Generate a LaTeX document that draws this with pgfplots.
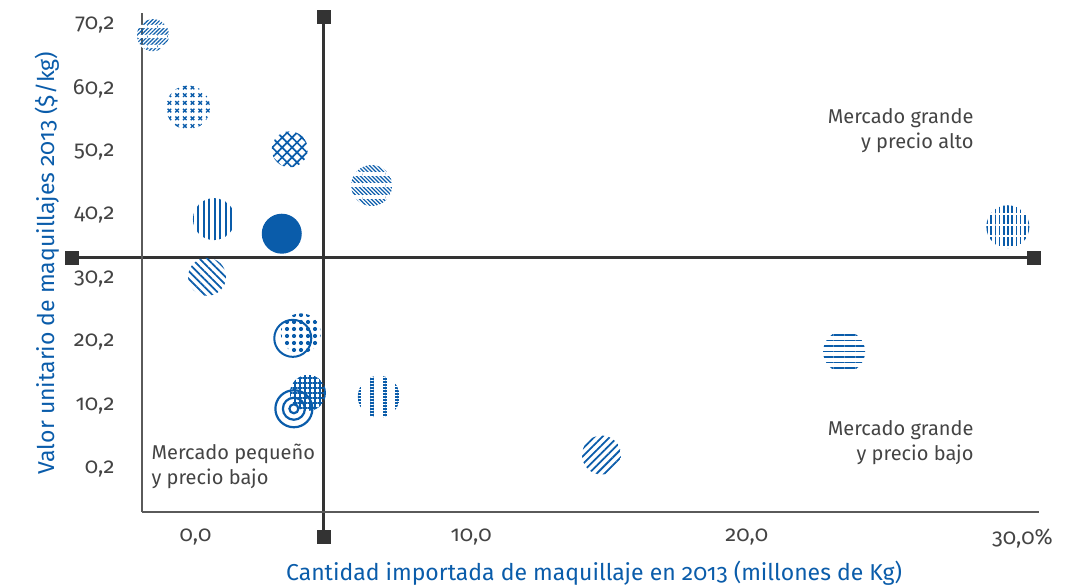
\documentclass[border=0pt]{standalone}
\usepackage{fontspec}
\setmainfont{Fira Sans}[Numbers=OldStyle]
\usepackage{pgfplots}
\pgfplotsset{compat=1.18}
\usetikzlibrary{patterns.meta}
\definecolor{bblue}{RGB}{10,92,170}
\definecolor{tgray}{RGB}{68,68,68}
\definecolor{qgray}{RGB}{51,51,51}
\definecolor{agray}{RGB}{90,90,90}
\tikzdeclarepattern{
  name=xmarks,
  type=uncolored,
  bottom left={(-3.85bp,-3.85bp)},
  top right={(3.85bp,3.85bp)},
  tile size={(7.7bp,7.7bp)},
  code={\draw[line width=1.4bp] (-1.8bp,-1.8bp)--(1.8bp,1.8bp) (-1.8bp,1.8bp)--(1.8bp,-1.8bp);}
}
\pgfdeclareplotmark{fcirc}{\pgfpathcircle{\pgfpointorigin}{\pgfplotmarksize}\pgfusepathqfill}
\begin{document}
\begin{tikzpicture}
\begin{axis}[
  name=ax,
  scale only axis,
  width=897bp, height=499bp,
  xmin=-1.94, xmax=30.6,
  ymin=-6.58, ymax=72.1,
  axis x line=bottom, axis y line=left,
  axis line style={-, draw=agray, line width=1.2bp},
  axis on top,
  clip=false,
  major tick length=0pt,
  xtick={0,10,20,30},
  xticklabels={{0,0},{10,0},{20,0},{30,0\%}},
  ytick={0.2,10.2,20.2,30.2,40.2,50.2,60.2,70.2},
  yticklabels={{0,2},{10,2},{20,2},{30,2},{40,2},{50,2},{60,2},{70,2}},
  /pgf/number format/assume math mode=true,
  ticklabel style={font=\fontsize{22bp}{24bp}\selectfont, text=tgray},
  yticklabel style={xshift=-24bp},
  xticklabel style={yshift=-13bp},
  xlabel={Cantidad importada de maquillaje en 2013 (millones de Kg)},
  ylabel={Valor unitario de maquillajes 2013 (\$/kg)},
  label style={font=\fontsize{23bp}{25bp}\selectfont, text=bblue},
  xlabel style={at={(axis description cs:0.504,-0.122)}, anchor=center},
  ylabel style={at={(axis description cs:-0.106,0.499)}, anchor=center},
  every axis plot/.append style={only marks},
]
% 1: banded fine diagonal
\addplot[mark=fcirc, mark size=16bp, mark options={pattern={Lines[angle=45,distance=2.8bp,line width=1.2bp]}, pattern color=bblue}] coordinates {(-1.54,68.6)};
\addplot[mark=fcirc, mark size=16.5bp, mark options={pattern={Lines[angle=0,distance=9.5bp,line width=3bp]}, pattern color=white}] coordinates {(-1.54,68.6)};
% 2: crosses
\addplot[mark=fcirc, mark size=22bp, mark options={pattern=xmarks, pattern color=bblue}] coordinates {(-0.27,57.2)};
% 3: crosshatch
\addplot[mark=fcirc, mark size=18bp, mark options={pattern={Hatch[angle=45,distance=7bp,line width=1.7bp]}, pattern color=bblue}] coordinates {(3.42,50.6)};
% 4: banded diagonal
\addplot[mark=fcirc, mark size=20.5bp, mark options={pattern={Lines[angle=-45,distance=2.8bp,line width=1.2bp]}, pattern color=bblue}] coordinates {(6.39,44.9)};
\addplot[mark=fcirc, mark size=21bp, mark options={pattern={Lines[angle=0,distance=11.5bp,line width=4bp]}, pattern color=white}] coordinates {(6.39,44.9)};
% 5: vertical lines
\addplot[mark=fcirc, mark size=21bp, mark options={pattern={Lines[angle=90,distance=5.5bp,line width=2bp]}, pattern color=bblue}] coordinates {(0.67,39.6)};
% 6: solid
\addplot[mark=fcirc, mark size=20bp, mark options={fill=bblue}] coordinates {(3.13,37.3)};
% 7: diagonal NW
\addplot[mark=fcirc, mark size=19bp, mark options={pattern={Lines[angle=-45,distance=5.5bp,line width=1.8bp]}, pattern color=bblue}] coordinates {(0.42,30.5)};
% 8: dense vertical dashed
\addplot[mark=fcirc, mark size=21.5bp, mark options={pattern={Lines[angle=90,distance=4.2bp,line width=1.5bp]}, pattern color=bblue}] coordinates {(29.47,38.4)};
\addplot[mark=fcirc, mark size=22bp, mark options={pattern={Lines[angle=0,distance=11bp,line width=2.5bp]}, pattern color=white}] coordinates {(29.47,38.4)};
% 9: horizontal lines
\addplot[mark=fcirc, mark size=21bp, mark options={pattern={Lines[angle=0,distance=5.5bp,line width=1.8bp]}, pattern color=bblue}] coordinates {(23.53,18.7)};
% 10: diagonal NE
\addplot[mark=fcirc, mark size=19.5bp, mark options={pattern={Lines[angle=45,distance=5.5bp,line width=1.8bp]}, pattern color=bblue}] coordinates {(14.73,2.4)};
% 11: sparse vertical dashed
\addplot[mark=fcirc, mark size=21bp, mark options={pattern={Lines[angle=90,distance=12.7bp,line width=4bp,xshift=3.5bp]}, pattern color=bblue}] coordinates {(6.65,11.6)};
\addplot[mark=fcirc, mark size=21.5bp, mark options={pattern={Lines[angle=0,distance=3bp,line width=1bp]}, pattern color=white}] coordinates {(6.65,11.6)};
% 12: dots + outline circle
\addplot[mark=fcirc, mark size=20bp, mark options={pattern={Dots[distance=7bp,radius=2.1bp]}, pattern color=bblue}] coordinates {(3.82,21.6)};
\addplot[mark=o, mark size=18.5bp, mark options={draw=bblue, line width=2bp}] coordinates {(3.53,20.8)};
% 13: grid + rings
\addplot[mark=fcirc, mark size=18bp, mark options={pattern={Hatch[angle=0,distance=5bp,line width=1.2bp]}, pattern color=bblue}] coordinates {(4.08,12.2)};
\addplot[mark=o, mark size=18.5bp, mark options={draw=bblue, line width=2.2bp}] coordinates {(3.57,9.7)};
\addplot[mark=o, mark size=11bp, mark options={draw=bblue, line width=2.2bp}] coordinates {(3.57,9.7)};
\addplot[mark=o, mark size=4.5bp, mark options={draw=bblue, line width=2.2bp}] coordinates {(3.57,9.7)};
% quadrant lines
\addplot[sharp plot, draw=qgray, line width=3bp, mark=square*, mark size=6.5bp, mark options={fill=qgray, draw=qgray, line width=0.1bp}] coordinates {(4.66,-10.5) (4.66,71.6)};
\addplot[sharp plot, draw=qgray, line width=3bp, mark=square*, mark size=6.5bp, mark options={fill=qgray, draw=qgray, line width=0.1bp}] coordinates {(-4.51,33.5) (30.4,33.5)};
% annotations
\node[anchor=east, align=right, text=tgray, font=\fontsize{20bp}{25bp}\selectfont] at (axis cs:28.35,53.6) {Mercado grande\\y precio alto};
\node[anchor=east, align=right, text=tgray, font=\fontsize{20bp}{25bp}\selectfont] at (axis cs:28.35,4.3) {Mercado grande\\y precio bajo};
\node[anchor=west, align=left, text=tgray, font=\fontsize{20bp}{25bp}\selectfont] at (axis cs:-1.72,0.67) {Mercado pequeño\\y precio bajo};
\end{axis}
\pgfresetboundingbox
\path (ax.south west) ++(-142bp,-76bp) rectangle ++(1071bp,588bp);
\end{tikzpicture}
\end{document}
